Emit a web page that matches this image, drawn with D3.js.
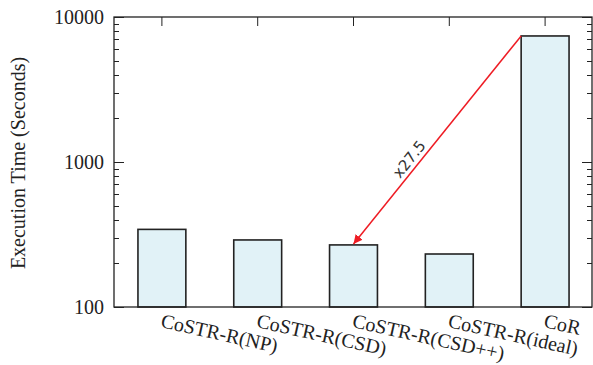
<!DOCTYPE html>
<html>
<head>
<meta charset="utf-8">
<script src="https://cdn.jsdelivr.net/npm/d3@7"></script>
<style>
  body { margin: 0; background: #fff; }
  text { font-family: "Liberation Serif", "DejaVu Serif", serif; fill: #222; }
</style>
</head>
<body>
<div id="chart"></div>
<script>
  'use strict';

  // data
  var categories = ['CoSTR-R(NP)', 'CoSTR-R(CSD)', 'CoSTR-R(CSD++)', 'CoSTR-R(ideal)', 'CoR'];
  var times = [343, 290, 268, 232, 7400];
  var yTickLabels = [100, 1000, 10000];
  var speedupLabel = 'x27.5';

  var width = 593, height = 365;
  var area = { left: 114, top: 17, right: 592, bottom: 307 };

  var svg = d3.select('#chart')
    .append('svg')
      .attr('width', width)
      .attr('height', height);

  var x = d3.scaleBand()
    .domain(categories)
    .range([area.left, area.right + 1])
    .paddingInner(0.5)
    .paddingOuter(0.25);

  var y = d3.scaleLog()
    .domain([100, 10000])
    .range([area.bottom, area.top]);

  // bars
  svg.append('g')
    .selectAll('rect')
    .data(categories)
    .enter().append('rect')
      .attr('x', function(d) { return x(d); })
      .attr('y', function(d, i) { return y(times[i]); })
      .attr('width', x.bandwidth())
      .attr('height', function(d, i) { return area.bottom - y(times[i]); })
      .attr('fill', '#e1f2f7')
      .attr('stroke', '#222')
      .attr('stroke-width', 1.6);

  // frame
  svg.append('rect')
    .attr('x', area.left)
    .attr('y', area.top)
    .attr('width', area.right - area.left)
    .attr('height', area.bottom - area.top)
    .attr('fill', 'none')
    .attr('stroke', '#222')
    .attr('stroke-width', 1.3);

  // y ticks, both sides, pointing in
  var ticks = y.ticks();
  var isMajor = function(d) { return yTickLabels.indexOf(d) >= 0; };
  var tickG = svg.append('g').attr('stroke', '#222').attr('stroke-width', 1);
  tickG.selectAll('line.l')
    .data(ticks)
    .enter().append('line')
      .attr('class', 'l')
      .attr('x1', area.left)
      .attr('x2', function(d) { return area.left + (isMajor(d) ? 10 : 5); })
      .attr('y1', function(d) { return Math.round(y(d)) + 0.5; })
      .attr('y2', function(d) { return Math.round(y(d)) + 0.5; });
  tickG.selectAll('line.r')
    .data(ticks)
    .enter().append('line')
      .attr('class', 'r')
      .attr('x1', area.right)
      .attr('x2', function(d) { return area.right - (isMajor(d) ? 10 : 5); })
      .attr('y1', function(d) { return Math.round(y(d)) + 0.5; })
      .attr('y2', function(d) { return Math.round(y(d)) + 0.5; });

  // x ticks on top
  tickG.selectAll('line.t')
    .data(categories)
    .enter().append('line')
      .attr('class', 't')
      .attr('x1', function(d) { return x(d) + x.bandwidth() / 2; })
      .attr('x2', function(d) { return x(d) + x.bandwidth() / 2; })
      .attr('y1', area.top)
      .attr('y2', area.top + 9);

  // y tick labels
  svg.append('g')
    .selectAll('text')
    .data(yTickLabels)
    .enter().append('text')
      .attr('x', 104)
      .attr('y', function(d) { return y(d) + 7; })
      .attr('text-anchor', 'end')
      .style('font-size', '20px')
      .text(function(d) { return d; });

  // x labels
  svg.append('g')
    .selectAll('text')
    .data(categories)
    .enter().append('text')
      .attr('text-anchor', 'start')
      .attr('transform', function(d) {
        return 'translate(' + (x(d) + x.bandwidth() / 2 - 2) + ',' + (area.bottom + 20) + ') rotate(12.5)';
      })
      .style('font-size', '20px')
      .text(function(d) { return d; });

  // y axis title
  svg.append('text')
    .attr('transform', 'translate(25,' + ((area.top + area.bottom) / 2 + 1) + ') rotate(-90)')
    .attr('text-anchor', 'middle')
    .style('font-size', '20px')
    .text('Execution Time (Seconds)');

  // speedup arrow: from top-left of CoR bar to top of CSD++ bar
  svg.append('defs').append('marker')
    .attr('id', 'arrow')
    .attr('viewBox', '0 0 10 10')
    .attr('refX', 10).attr('refY', 5)
    .attr('markerWidth', 9).attr('markerHeight', 9)
    .attr('markerUnits', 'userSpaceOnUse')
    .attr('orient', 'auto')
  .append('path')
    .attr('d', 'M0,0 L10,5 L0,10 z')
    .attr('fill', '#ee1c24');

  var x1 = x('CoR'), y1 = y(times[4]);
  var x2 = x('CoSTR-R(CSD++)') + x.bandwidth() / 2, y2 = y(times[2]);
  svg.append('line')
    .attr('x1', x1).attr('y1', y1)
    .attr('x2', x2).attr('y2', y2 - 1)
    .attr('stroke', '#ee1c24')
    .attr('stroke-width', 1.5)
    .attr('marker-end', 'url(#arrow)');

  var ang = Math.atan2(y1 - y2, x1 - x2) * 180 / Math.PI;
  var mx = x1 + (x2 - x1) * 0.62, my = y1 + (y2 - y1) * 0.62;
  svg.append('text')
    .attr('transform', 'translate(' + mx + ',' + my + ') rotate(' + ang + ')')
    .attr('text-anchor', 'middle')
    .attr('dy', -5)
    .style('font-family', '"DejaVu Sans", sans-serif')
    .style('font-size', '15px')
    .style('fill', '#333')
    .text(speedupLabel);
</script>
</body>
</html>
